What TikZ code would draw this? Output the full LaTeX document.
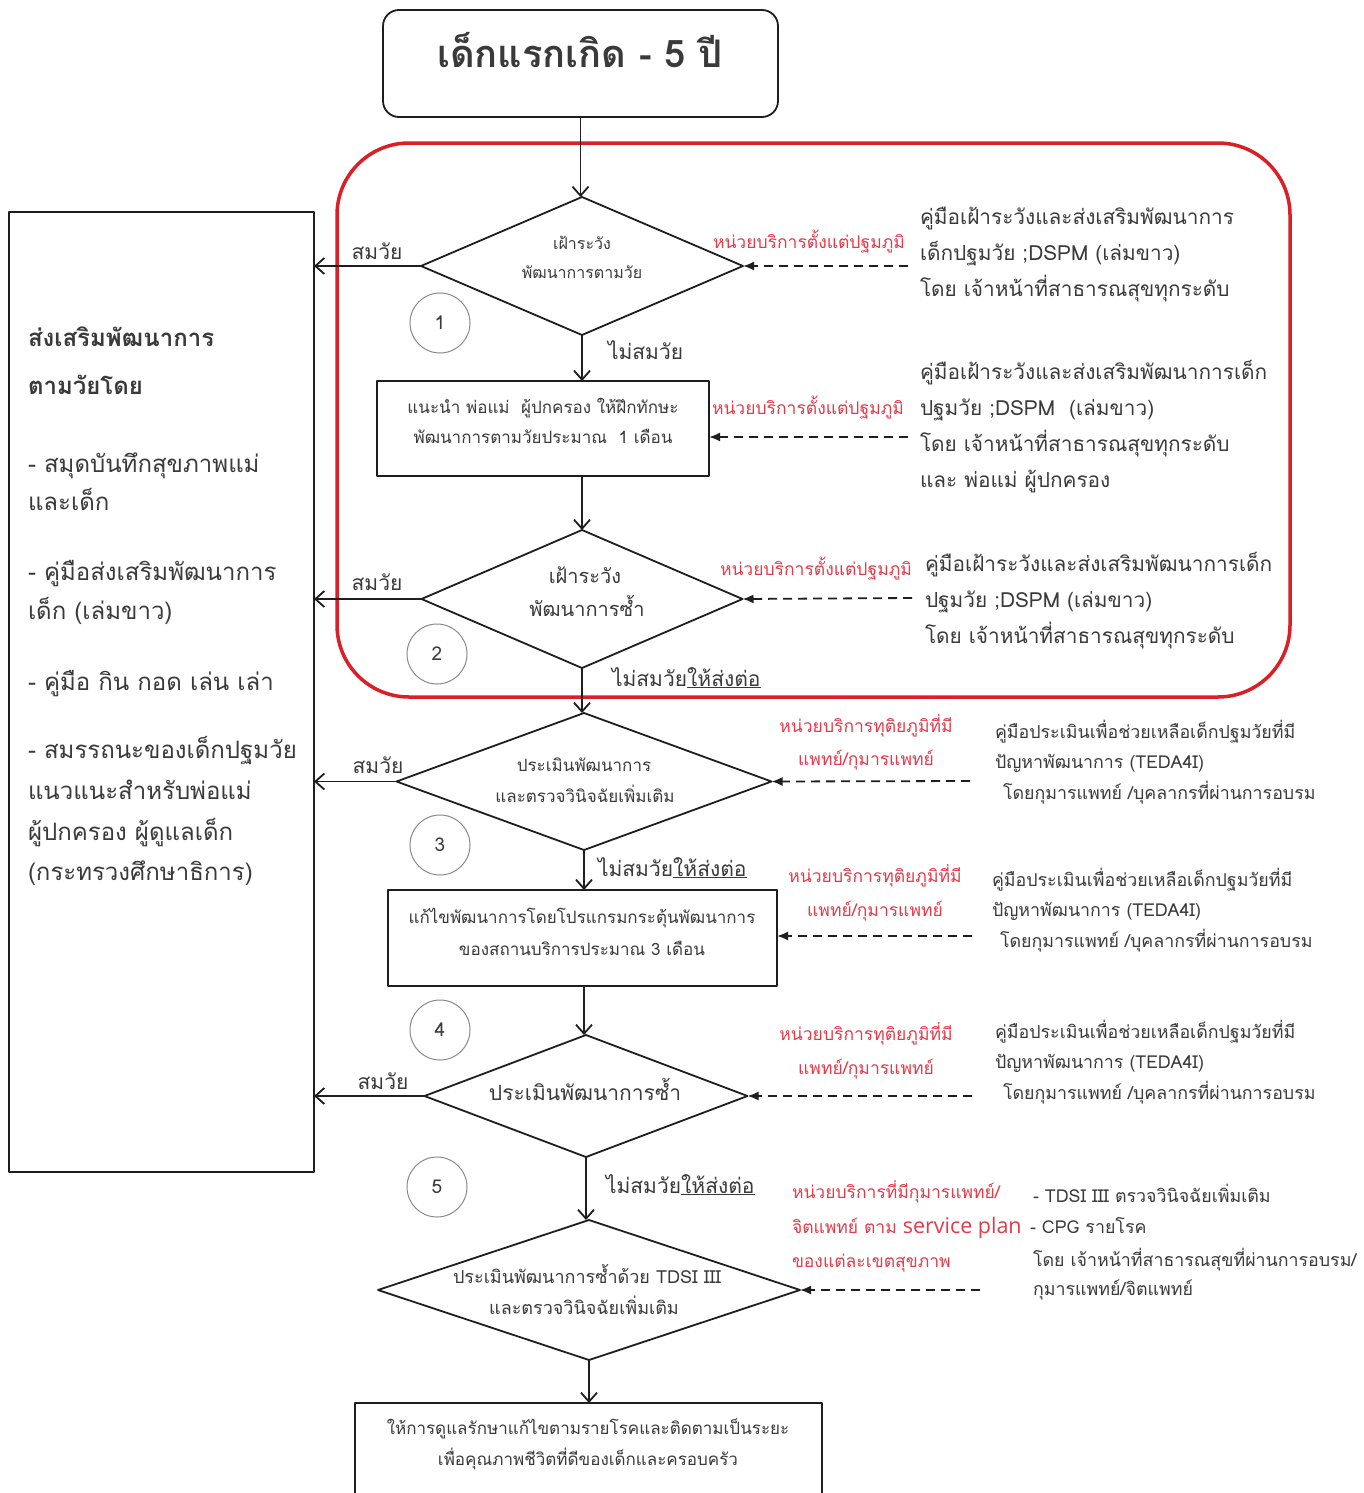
\documentclass[tikz,border=0pt]{standalone}
\usepackage{fontspec}
\setmainfont[Script=Thai]{Loma}
\newfontfamily\planfont{Open Sans}
\usetikzlibrary{shapes.geometric,arrows.meta}

\definecolor{ink}{HTML}{3A3A3A}
\definecolor{frame}{HTML}{1E1E1E}
\definecolor{alert}{HTML}{DA1F26}
\definecolor{alerttext}{HTML}{E23B4A}
\definecolor{ring}{HTML}{8A8A8A}
\newcommand\fz[2]{\fontsize{#1}{#2}\selectfont}

\begin{document}
\begin{tikzpicture}[x=1pt,y=-1pt,line join=round,
  every node/.style={text=ink, inner sep=0pt, outer sep=0pt},
  stepbox/.style={draw=frame, line width=1.8pt, rectangle},
  choice/.style={draw=frame, line width=1.8pt, diamond},
  ring/.style={draw=ring, line width=1pt, circle, minimum size=60pt, font=\fz{19}{22}},
  flow/.style={draw=frame, line width=1.8pt, -{Straight Barb[length=9pt,width=16pt]}},
  guide/.style={draw=frame, line width=1.8pt, dash pattern=on 9pt off 6pt, -{Latex[length=11pt,width=9pt]}},
  sidetext/.style={anchor=base west, font=\fz{24}{29}},
  bignote/.style={anchor=base west, font=\fz{20.8}{25}},
  smallnote/.style={anchor=base west, font=\fz{17.8}{22}},
  unitl/.style={anchor=base west, text=alerttext, font=\fz{17.5}{20}},
  unitc/.style={anchor=base, text=alerttext, font=\fz{17.5}{20}},
  inner/.style={anchor=base, font=\fz{#1}{#1}},
  branch/.style={anchor=base, font=\fz{21}{24}},
  branchl/.style={anchor=base west, font=\fz{21}{24}},
]
\useasboundingbox (0,0) rectangle (1363,1493);
\clip (0,0) rectangle (1363,1493);
\fill[white] (0,0) rectangle (1363,1493);

% ---- frame around the surveillance stage
\node[draw=alert, line width=3.5pt, rounded corners=72pt,
      minimum width=953pt, minimum height=554pt] (zone) at (813.5,420) {};

% ---- main flow shapes
\node[draw=frame, line width=1.8pt, rounded corners=16pt, minimum width=395pt,
      minimum height=107pt] (start) at (580.5,63.5) {};
\node[anchor=base, font=\fz{38}{44}\bfseries] (title) at (580,68) {เด็กแรกเกิด - 5 ปี};
\node[stepbox, minimum width=305pt, minimum height=960pt] (side) at (161.5,692) {};
\node[choice, minimum width=322pt, minimum height=138pt] (d1) at (582,266) {};
\node[stepbox, minimum width=332pt, minimum height=95pt] (box1) at (543,428.5) {};
\node[choice, minimum width=321pt, minimum height=138pt] (d2) at (582,599) {};
\node[choice, minimum width=375pt, minimum height=137pt] (d3) at (584,781.5) {};
\node[stepbox, minimum width=389pt, minimum height=96pt] (box2) at (582.5,938) {};
\node[choice, minimum width=323pt, minimum height=122pt] (d4) at (586,1096) {};
\node[choice, minimum width=422pt, minimum height=140pt] (d5) at (589,1290) {};
\node[stepbox, minimum width=467pt, minimum height=110pt] (care) at (588.5,1458) {};

% ---- step numbers
\node[ring] (n1) at (440,323) {1};
\node[ring] (n2) at (437,654) {2};
\node[ring] (n3) at (440,845) {3};
\node[ring] (n4) at (440,1030) {4};
\node[ring] (n5) at (437,1187) {5};

% ---- texts inside the shapes
\node[inner=16] (t1a) at (582,249) {เฝ้าระวัง};
\node[inner=16] (t1b) at (582,278) {พัฒนาการตามวัย};
\node[inner=17] (t2a) at (543,413) {แนะนำ พ่อแม่\ \ ผู้ปกครอง ให้ฝึกทักษะ};
\node[inner=17] (t2b) at (543,443) {พัฒนาการตามวัยประมาณ\ \ 1 เดือน};
\node[inner=20] (t3a) at (585,583) {เฝ้าระวัง};
\node[inner=20] (t3b) at (587,616) {พัฒนาการซ้ำ};
\node[inner=17] (t4a) at (584,771) {ประเมินพัฒนาการ};
\node[inner=17] (t4b) at (585,802) {และตรวจวินิจฉัยเพิ่มเติม};
\node[inner=17] (t5a) at (582,923) {แก้ไขพัฒนาการโดยโปรแกรมกระตุ้นพัฒนาการ};
\node[inner=17] (t5b) at (582,955) {ของสถานบริการประมาณ 3 เดือน};
\node[inner=21] (t6a) at (585,1100) {ประเมินพัฒนาการซ้ำ};
\node[inner=18] (t7a) at (587,1283) {ประเมินพัฒนาการซ้ำด้วย TDSI III};
\node[inner=18] (t7b) at (584,1314) {และตรวจวินิจฉัยเพิ่มเติม};
\node[inner=17] (t8a) at (588,1434) {ให้การดูแลรักษาแก้ไขตามรายโรคและติดตามเป็นระยะ};
\node[inner=17] (t8b) at (588,1465) {เพื่อคุณภาพชีวิตที่ดีของเด็กและครอบครัว};

% ---- promotion list in the side box
\foreach \yy/\tt [count=\i] in {
  339/{\bfseries ส่งเสริมพัฒนาการ},
  387/{\bfseries ตามวัยโดย},
  465/{- สมุดบันทึกสุขภาพแม่},
  503/{และเด็ก},
  573/{- คู่มือส่งเสริมพัฒนาการ},
  612/{เด็ก (เล่มขาว)},
  683/{- คู่มือ กิน กอด เล่น เล่า},
  751/{- สมรรถนะของเด็กปฐมวัย},
  792/{แนวแนะสำหรับพ่อแม่},
  833/{ผู้ปกครอง ผู้ดูแลเด็ก},
  873/{(กระทรวงศึกษาธิการ)}}
  \node[sidetext] (side-\i) at (28,\yy+7) {\tt};

% ---- flow connectors
\draw[flow] (start.south) -- (start.south |- d1.north);
\draw[flow] (d1.south) -- (d1.south |- box1.north);
\draw[flow] (d1.south |- box1.south) -- (d2.north);
\draw[flow] (d2.south) -- (d2.south |- d3.north);
\draw[flow] (d3.south) -- (d3.south |- box2.north);
\draw[flow] (d3.south |- box2.south) -- (d3.south |- d4.north);
\draw[flow] (d4.south) -- (d4.south |- d5.north);
\draw[flow] (d5.south) -- (d5.south |- care.north);

\draw[flow] (d1.west) -- (d1.west -| side.east);
\draw[flow] (d2.west) -- (d2.west -| side.east);
\draw[flow] (d3.west) -- (d3.west -| side.east);
\draw[flow] (d4.west) -- (d4.west -| side.east);

% ---- branch labels
\node[branch] (y1) at (377,259) {สมวัย};
\node[branch] (y2) at (377,590) {สมวัย};
\node[branch] (y3) at (378,773) {สมวัย};
\node[branch] (y4) at (383,1089) {สมวัย};
\node[branchl] (no1) at (608,359) {ไม่สมวัย};
\node[branchl] (no2) at (612,686) {ไม่สมวัย\underline{ให้ส่งต่อ}};
\node[branchl] (no3) at (598,876) {ไม่สมวัย\underline{ให้ส่งต่อ}};
\node[branchl] (no4) at (606,1193) {ไม่สมวัย\underline{ให้ส่งต่อ}};

% ---- service units and their guides
\coordinate (s1) at (908,266);
\coordinate (s2) at (908,437);
\coordinate (s3) at (912,598);
\coordinate (s4) at (970,781);
\coordinate (s5) at (972,936);
\coordinate (s6) at (972,1096);
\coordinate (s7) at (980,1290);
\draw[guide] (s1) -- (d1.east);
\draw[guide] (s2) -- (s2 -| box1.east);
\draw[guide] (s3) -- (d2.east);
\draw[guide] (s4) -- (d3.east);
\draw[guide] (s5) -- (s5 -| box2.east);
\draw[guide] (s6) -- (d4.east);
\draw[guide] (s7) -- (d5.east);

\node[unitl] (u1) at (713,248) {หน่วยบริการตั้งแต่ปฐมภูมิ};
\node[unitl] (u2) at (712,414) {หน่วยบริการตั้งแต่ปฐมภูมิ};
\node[unitl] (u3) at (720,575) {หน่วยบริการตั้งแต่ปฐมภูมิ};
\node[unitc] (u4a) at (866,732) {หน่วยบริการทุติยภูมิที่มี};
\node[unitc] (u4b) at (866,765) {แพทย์/กุมารแพทย์};
\node[unitc] (u5a) at (875,882) {หน่วยบริการทุติยภูมิที่มี};
\node[unitc] (u5b) at (875,916) {แพทย์/กุมารแพทย์};
\node[unitc] (u6a) at (866,1040) {หน่วยบริการทุติยภูมิที่มี};
\node[unitc] (u6b) at (866,1074) {แพทย์/กุมารแพทย์};
\node[unitl] (u7a) at (792,1198) {หน่วยบริการที่มีกุมารแพทย์/};
\node[unitl] (u7b) at (792,1233) {จิตแพทย์ ตาม {\planfont\fz{21.5}{24}service plan}};
\node[unitl] (u7c) at (792,1267) {ของแต่ละเขตสุขภาพ};

% ---- manuals and staff
\node[bignote] (m1a) at (920,224) {คู่มือเฝ้าระวังและส่งเสริมพัฒนาการ};
\node[bignote] (m1b) at (920,260) {เด็กปฐมวัย ;DSPM (เล่มขาว)};
\node[bignote] (m1c) at (920,296) {โดย เจ้าหน้าที่สาธารณสุขทุกระดับ};
\node[bignote] (m2a) at (920,379) {คู่มือเฝ้าระวังและส่งเสริมพัฒนาการเด็ก};
\node[bignote] (m2b) at (920,415) {ปฐมวัย ;DSPM\ \ (เล่มขาว)};
\node[bignote] (m2c) at (920,451) {โดย เจ้าหน้าที่สาธารณสุขทุกระดับ};
\node[bignote] (m2d) at (920,487) {และ พ่อแม่ ผู้ปกครอง};
\node[bignote] (m3a) at (925,571) {คู่มือเฝ้าระวังและส่งเสริมพัฒนาการเด็ก};
\node[bignote] (m3b) at (925,607) {ปฐมวัย ;DSPM (เล่มขาว)};
\node[bignote] (m3c) at (925,643) {โดย เจ้าหน้าที่สาธารณสุขทุกระดับ};
\node[smallnote] (m4a) at (995,738) {คู่มือประเมินเพื่อช่วยเหลือเด็กปฐมวัยที่มี};
\node[smallnote] (m4b) at (995,768) {ปัญหาพัฒนาการ (TEDA4I)};
\node[smallnote] (m4c) at (1003,799) {โดยกุมารแพทย์ /บุคลากรที่ผ่านการอบรม};
\node[smallnote] (m5a) at (992,886) {คู่มือประเมินเพื่อช่วยเหลือเด็กปฐมวัยที่มี};
\node[smallnote] (m5b) at (992,916) {ปัญหาพัฒนาการ (TEDA4I)};
\node[smallnote] (m5c) at (1000,947) {โดยกุมารแพทย์ /บุคลากรที่ผ่านการอบรม};
\node[smallnote] (m6a) at (995,1038) {คู่มือประเมินเพื่อช่วยเหลือเด็กปฐมวัยที่มี};
\node[smallnote] (m6b) at (995,1068) {ปัญหาพัฒนาการ (TEDA4I)};
\node[smallnote] (m6c) at (1003,1099) {โดยกุมารแพทย์ /บุคลากรที่ผ่านการอบรม};
\node[smallnote] (m7a) at (1033,1202) {- TDSI III ตรวจวินิจฉัยเพิ่มเติม};
\node[smallnote] (m7b) at (1030,1233) {- CPG รายโรค};
\node[smallnote] (m7c) at (1033,1266) {โดย เจ้าหน้าที่สาธารณสุขที่ผ่านการอบรม/};
\node[smallnote] (m7d) at (1033,1295) {กุมารแพทย์/จิตแพทย์};
\end{tikzpicture}
\end{document}
